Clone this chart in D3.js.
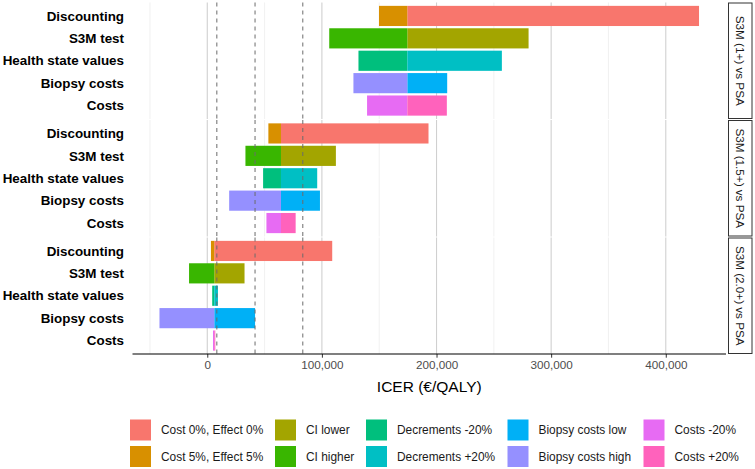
<!DOCTYPE html>
<html><head><meta charset="utf-8">
<script src="https://cdn.jsdelivr.net/npm/d3@7"></script>
<style>
body{margin:0;background:#fff;}
svg{display:block;font-family:"Liberation Sans",Arial,sans-serif;}
</style></head>
<body><svg id="chart" width="755" height="469"></svg>
<script>
// ---- data ----
const parameters = ["Discounting","S3M test","Health state values","Biopsy costs","Costs"];
const comparisons = ["S3M (1+) vs PSA","S3M (1.5+) vs PSA","S3M (2.0+) vs PSA"];
const baseICER = [174500, 64300, 6100];
const cost0Effect0 = [429000, 193000, 109000];
const cost5Effect5 = [149800, 53300, 3200];
const ciLower = [280300, 112200, 32500];
const ciHigher = [106400, 33300, -15900];
const decrementsMinus20 = [131900, 48700, 4300];
const decrementsPlus20 = [257000, 95900, 9300];
const biopsyCostsLow = [209300, 98300, 41700];
const biopsyCostsHigh = [127500, 19100, -41700];
const costsMinus20 = [139400, 51600, 5000];
const costsPlus20 = [209000, 77100, 7000];
const thresholds = [8333, 41667, 83333];
const xTicks = [0, 100000, 200000, 300000, 400000];
const xMinorTicks = [-50000, 50000, 150000, 250000, 350000];
const seriesNames = ["Cost 0%, Effect 0%","Cost 5%, Effect 5%","CI lower","CI higher",
  "Decrements -20%","Decrements +20%","Biopsy costs low","Biopsy costs high","Costs -20%","Costs +20%"];
const seriesColors = ["#F8766D","#D89000","#A3A500","#39B600","#00BF7D","#00BFC4","#00B0F6","#9590FF","#E76BF3","#FF62BC"];

const seriesValues = [cost0Effect0, cost5Effect5, ciLower, ciHigher, decrementsMinus20,
  decrementsPlus20, biopsyCostsLow, biopsyCostsHigh, costsMinus20, costsPlus20];
const seriesParam = [0,0,1,1,2,2,3,3,4,4];

const bars = [];
comparisons.forEach((c, ci) => {
  seriesNames.forEach((s, si) => {
    bars.push({comp: ci, param: parameters[seriesParam[si]], series: s,
      from: baseICER[ci], to: seriesValues[si][ci]});
  });
});

// ---- layout ----
const svg = d3.select("#chart");
const plotL = 132.5, plotR = 726;
const panelTop = 2.5, panelH = 116.5, panelGap = 1;
const allVals = bars.flatMap(b => [b.from, b.to]);
const dmin = d3.min(allVals), dmax = d3.max(allVals), pad = (dmax - dmin) * 0.05;
const x = d3.scaleLinear().domain([dmin - pad, dmax + pad]).range([plotL, plotR]);
const color = d3.scaleOrdinal().domain(seriesNames).range(seriesColors);
const font = "'Liberation Sans', Arial, sans-serif";

const bottom = panelTop + 3 * panelH + 2 * panelGap;

comparisons.forEach((c, ci) => {
  const top = panelTop + ci * (panelH + panelGap);
  const y = d3.scalePoint().domain(parameters).range([top, top + panelH]).padding(0.6);
  const step = y.step();
  const g = svg.append("g");
  g.selectAll("line.minor").data(xMinorTicks).join("line")
    .attr("x1", d => x(d)).attr("x2", d => x(d)).attr("y1", top).attr("y2", top + panelH)
    .attr("stroke", "#ebebeb").attr("stroke-width", 0.7);
  g.selectAll("line.major").data(xTicks).join("line")
    .attr("x1", d => x(d)).attr("x2", d => x(d)).attr("y1", top).attr("y2", top + panelH)
    .attr("stroke", "#d0d0d0").attr("stroke-width", 1.1);
  g.selectAll("rect.bar").data(bars.filter(b => b.comp === ci)).join("rect")
    .attr("x", d => x(Math.min(d.from, d.to)))
    .attr("width", d => Math.abs(x(d.to) - x(d.from)))
    .attr("y", d => y(d.param) - step * 0.45)
    .attr("height", step * 0.9)
    .attr("fill", d => color(d.series));
  g.selectAll("line.thr").data(thresholds).join("line")
    .attr("x1", d => x(d)).attr("x2", d => x(d)).attr("y1", top).attr("y2", top + panelH)
    .attr("stroke", "#6b6b6b").attr("stroke-width", 1).attr("stroke-dasharray", "4,4");
  g.selectAll("text.yl").data(parameters).join("text")
    .attr("x", 124).attr("y", d => y(d)).attr("dy", "0.35em")
    .attr("text-anchor", "end").attr("font-size", 13.4).attr("font-weight", "bold")
    .attr("fill", "#000").attr("font-family", font).text(d => d);
  g.append("rect").attr("x", 728.5).attr("y", top + 0.5).attr("width", 23.5).attr("height", panelH - 1)
    .attr("fill", "#fff").attr("stroke", "#333").attr("stroke-width", 1);
  g.append("text")
    .attr("transform", `translate(${740.5},${top + panelH / 2}) rotate(90)`)
    .attr("text-anchor", "middle").attr("dy", "0.35em").attr("font-size", 11.7)
    .attr("fill", "#1a1a1a").attr("font-family", font).text(c);
});

// x axis
const axisY = bottom;
const axis = d3.axisBottom(x).tickValues(xTicks).tickSize(3.7).tickPadding(3)
  .tickFormat(d3.format(","));
const ag = svg.append("g").attr("transform", `translate(0,${axisY})`).call(axis);
ag.select(".domain").remove();
ag.append("line").attr("x1", plotL).attr("x2", plotR).attr("y1", 0).attr("y2", 0)
  .attr("stroke", "#000").attr("stroke-width", 1.1);
ag.selectAll(".tick line").attr("stroke", "#333");
ag.selectAll(".tick text").attr("font-size", 11.7).attr("fill", "#4d4d4d").attr("font-family", font);

svg.append("text").attr("x", (plotL + plotR) / 2).attr("y", 392)
  .attr("text-anchor", "middle").attr("font-size", 15.5).attr("fill", "#000")
  .attr("font-family", font).text("ICER (€/QALY)");

// legend (2 rows, filled by column)
const legendKeyX = [130, 275, 366, 507.5, 643.5];
const legendRowY = [419.5, 446];
const keySize = 21;
const lg = svg.append("g");
seriesNames.forEach((s, i) => {
  const col = Math.floor(i / 2), row = i % 2;
  const kx = legendKeyX[col], ky = legendRowY[row];
  lg.append("rect").attr("x", kx).attr("y", ky).attr("width", keySize).attr("height", keySize)
    .attr("fill", color(s));
  lg.append("text").attr("x", kx + keySize + 10).attr("y", ky + keySize / 2).attr("dy", "0.35em")
    .attr("font-size", 11.9).attr("fill", "#1a1a1a").attr("font-family", font).text(s);
});
</script></body></html>
